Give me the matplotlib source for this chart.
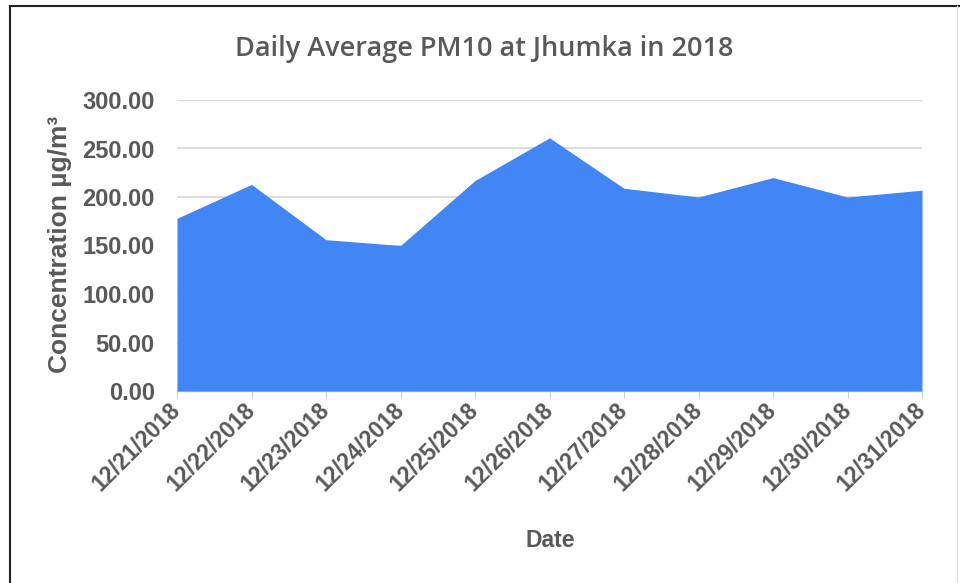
import matplotlib
matplotlib.use("Agg")
import matplotlib.pyplot as plt
from matplotlib.lines import Line2D

dates = ["12/21/2018", "12/22/2018", "12/23/2018", "12/24/2018", "12/25/2018",
         "12/26/2018", "12/27/2018", "12/28/2018", "12/29/2018", "12/30/2018",
         "12/31/2018"]
pm10 = [178, 213, 156, 150, 217, 261, 209, 200, 220, 200, 207]
yticks = [0, 50, 100, 150, 200, 250, 300]

TXT = "#595959"
fig = plt.figure(figsize=(9.6, 5.83), dpi=100)
ax = fig.add_axes([177/960, 1-391/583, (922-177)/960, (391-100)/583])

x = list(range(len(dates)))
ax.fill_between(x, pm10, 0, color="#4285F4", lw=0, zorder=3)
ax.set_xlim(0, len(dates)-1)
ax.set_ylim(0, 300)
ax.set_yticks(yticks)
ax.set_yticklabels([f"{v:.2f}" for v in yticks])
ax.grid(axis="y", color="#dddddd", lw=1.5, zorder=0)
for s in ["top", "right", "left"]:
    ax.spines[s].set_visible(False)
ax.spines["bottom"].set_color("#cccccc")
ax.spines["bottom"].set_linewidth(1.0)
ax.set_xticks(x)
ax.set_xticklabels(dates, rotation=45, ha="right", va="center",
                   rotation_mode="anchor",
                   fontsize=16.5, color=TXT, fontfamily="Liberation Sans",
                   fontweight="bold")
ax.tick_params(axis="x", length=5, color="#cccccc", pad=6)
ax.tick_params(axis="y", length=0, pad=16, labelsize=17, labelcolor=TXT)
for lbl in ax.get_yticklabels():
    lbl.set_fontfamily("Liberation Sans")
    lbl.set_fontweight("bold")

ax.set_ylabel("Concentration µg/m³", fontsize=19, color=TXT,
              fontfamily="Liberation Sans", fontweight="bold")
ax.yaxis.set_label_coords(-(177-72)/745, (391-244)/291)
ax.set_xlabel("Date", fontsize=16.5, color=TXT, fontfamily="Liberation Sans",
              fontweight="bold")
ax.xaxis.set_label_coords((550-177)/745, -(529-391)/291)
fig.text(484/960, 1-49/583, "Daily Average PM10 at Jhumka in 2018", ha="center",
         va="center", fontsize=19.5, color=TXT, fontfamily="Open Sans",
         fontweight=600)

# outer frame
fig.add_artist(Line2D([10/960, 10/960], [0, 1-6/583], color="#222222", lw=1.5,
                      transform=fig.transFigure))
fig.add_artist(Line2D([10/960, 1], [1-6/583, 1-6/583], color="#222222", lw=1.5,
                      transform=fig.transFigure))
fig.add_artist(Line2D([957/960, 957/960], [0, 1-6/583], color="#dddddd", lw=1,
                      transform=fig.transFigure))

fig.savefig("out.png", dpi=100)
